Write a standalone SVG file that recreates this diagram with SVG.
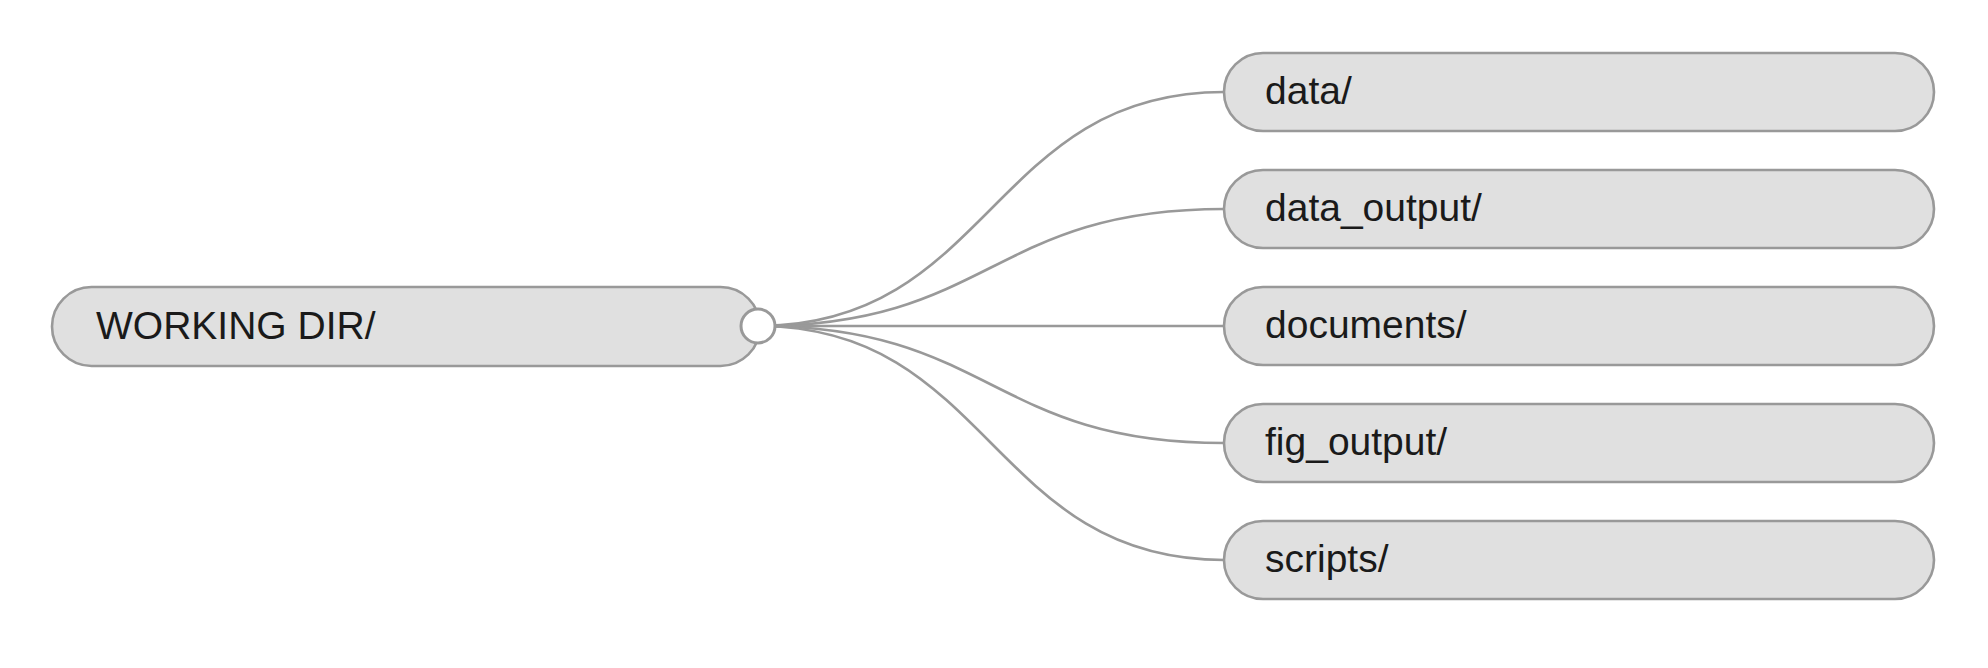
<svg xmlns="http://www.w3.org/2000/svg" width="1988" height="668" viewBox="0 0 1988 668">
<style>
.node rect{fill:#e0e0e0;stroke:#999;stroke-width:2.6}
.node text{font-family:"Liberation Sans",Arial,sans-serif;font-size:39px;fill:#1a1a1a}
.link{fill:none;stroke:#999;stroke-width:2.6}
</style>
<rect width="1988" height="668" fill="#fff"/>
<g id="connectors">
<path class="link" d="M758,326 C991,326 991,92 1224,92"/>
<path class="link" d="M758,326 C991,326 991,209 1224,209"/>
<path class="link" d="M758,326 L1224,326"/>
<path class="link" d="M758,326 C991,326 991,443 1224,443"/>
<path class="link" d="M758,326 C991,326 991,560 1224,560"/>
</g>
<g id="node-root" class="node">
<rect x="52" y="287" width="708" height="79" rx="39.5"/>
<text x="96" y="339">WORKING DIR/</text>
<circle cx="758" cy="326" r="17" fill="#fff" stroke="#999" stroke-width="3"/>
</g>
<g id="node-data" class="node">
<rect x="1224" y="53" width="710" height="78" rx="39"/>
<text x="1265" y="104">data/</text>
</g>
<g id="node-data_output" class="node">
<rect x="1224" y="170" width="710" height="78" rx="39"/>
<text x="1265" y="221">data_output/</text>
</g>
<g id="node-documents" class="node">
<rect x="1224" y="287" width="710" height="78" rx="39"/>
<text x="1265" y="338">documents/</text>
</g>
<g id="node-fig_output" class="node">
<rect x="1224" y="404" width="710" height="78" rx="39"/>
<text x="1265" y="455">fig_output/</text>
</g>
<g id="node-scripts" class="node">
<rect x="1224" y="521" width="710" height="78" rx="39"/>
<text x="1265" y="572">scripts/</text>
</g>
</svg>
